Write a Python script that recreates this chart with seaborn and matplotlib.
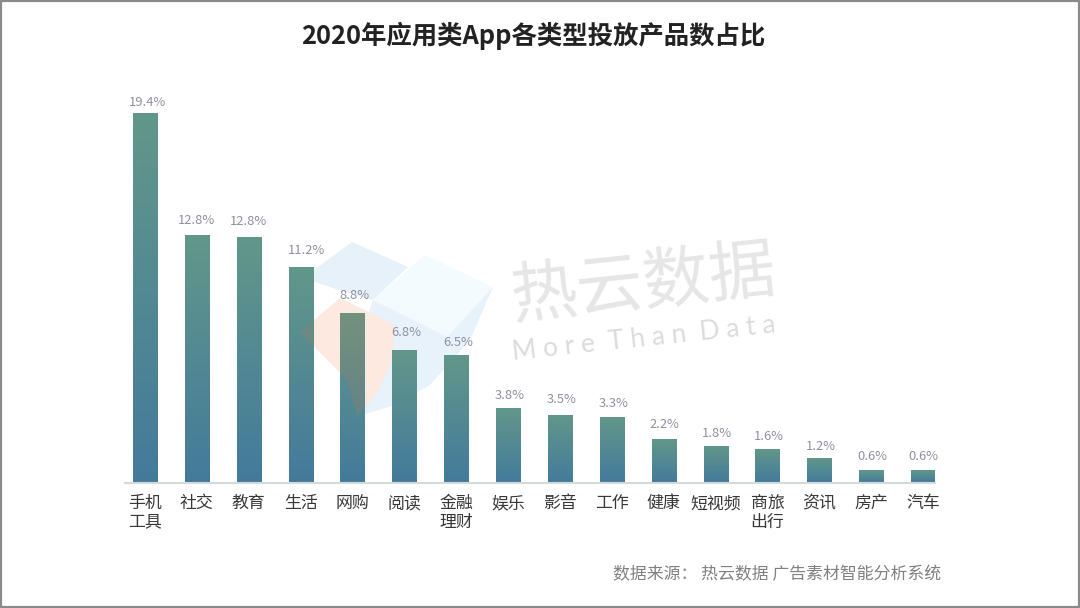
import numpy as np
import matplotlib
matplotlib.use('Agg')
import matplotlib.pyplot as plt
from matplotlib.colors import LinearSegmentedColormap
from matplotlib.patches import Polygon, Rectangle
import pandas as pd
import seaborn as sns

# data
categories = ['手机\n工具', '社交', '教育', '生活', '网购', '阅读', '金融\n理财', '娱乐',
              '影音', '工作', '健康', '短视频', '商旅\n出行', '资讯', '房产', '汽车']
bar_values = [19.35, 12.95, 12.87, 11.27, 8.86, 6.92, 6.66, 3.93,
              3.52, 3.41, 2.3, 1.89, 1.73, 1.31, 0.68, 0.68]
bar_labels = ['19.4%', '12.8%', '12.8%', '11.2%', '8.8%', '6.8%', '6.5%', '3.8%',
              '3.5%', '3.3%', '2.2%', '1.8%', '1.6%', '1.2%', '0.6%', '0.6%']

# label offset from bar top centre, px (the source places them by hand)
label_gaps = [11, 15, 16, 17, 18, 18, 13, 13, 16, 14, 15, 13, 13, 12, 14, 14]
label_shift = [3, 0, 0, 6, 2, 2, 2, 2, 2, 2, 1, 1, 1, 2, 1, 0]

W, H = 1080, 608
CJK = ['Noto Sans CJK SC', 'DejaVu Sans']

sns.set_theme(style='white')
plt.rcParams['font.family'] = CJK

fig = plt.figure(figsize=(W / 100, H / 100), dpi=100, facecolor='white')
ax = fig.add_axes([125 / W, 1 - 483 / H, (935 - 125) / W, (483 - 90) / H])
ax.patch.set_alpha(0)

df = pd.DataFrame({'cat': categories, 'val': bar_values})
sns.barplot(data=df, x='cat', y='val', width=0.4627, color='#5f9685', ax=ax, zorder=2)


def px(points):
    return [(x / W, 1 - y / H) for x, y in points]


orange_pts = [(340, 298), (395, 325), (392, 360), (378, 392), (357, 417), (347, 380), (300, 332)]

# vertical gradient on every bar, each one runs the full green to blue
cmap = LinearSegmentedColormap.from_list('bar', ['#437a9b', '#62978a'])
grad = np.linspace(0, 1, 256).reshape(-1, 1)
for i, (p, lab, gap, dx) in enumerate(zip(ax.patches, bar_labels, label_gaps, label_shift)):
    x0, w, h = p.get_x(), p.get_width(), p.get_height()
    ax.imshow(grad, origin='lower', extent=(x0, x0 + w, 0, h), aspect='auto',
              cmap=cmap, zorder=2)
    p.set_visible(False)
    ax.annotate(lab, (x0 + w / 2, h), xytext=(dx * 0.72, gap * 0.72), textcoords='offset points',
                ha='center', va='center', fontsize=9.3, color='#8f8fa2',
                family=CJK)
    # the orange part of the logo tints the bars it crosses
    if i in (3, 4):
        tint = Polygon(px(orange_pts), closed=True, transform=fig.transFigure,
                       facecolor='#c07a50', edgecolor='none', alpha=0.2, zorder=3)
        ax.add_patch(tint)
        tint.set_transform(fig.transFigure)
        tint.set_clip_path(Rectangle((x0, 0), w, h, transform=ax.transData))
ax.set_xlim(-0.385, 15.23)
ax.set_ylim(0, 20.6)

ax.set_xlabel('')
ax.set_ylabel('')
ax.set_yticks([])
ax.tick_params(axis='x', length=0, pad=8)
ax.set_xticks(range(len(categories)))
ax.set_xticklabels(categories, fontsize=12.2, color='#383838', linespacing=1.03)
for side in ['top', 'right', 'left']:
    ax.spines[side].set_visible(False)
ax.spines['bottom'].set_color('#d3dada')
ax.spines['bottom'].set_linewidth(1.5)

# watermark logo, behind the axes
logo = [
    ([(352, 242), (408, 267), (373, 300), (345, 292), (303, 278)], '#e6f1fa'),
    ([(425, 255), (493, 287), (447, 337), (373, 300)], '#f4fbff'),
    ([(373, 300), (447, 337), (493, 287), (470, 340), (430, 385), (395, 405), (352, 418),
      (353, 360)], '#e7f2fb'),
    (orange_pts, '#fde9e0'),
]
for pts, col in logo:
    fig.add_artist(Polygon(px(pts), closed=True, transform=fig.transFigure,
                           facecolor=col, edgecolor='none', zorder=-2))

fig.text(643 / W, 1 - 285 / H, '热云数据', fontsize=48, color='#e6e6e6', ha='center', va='center',
         rotation=6, family=CJK, zorder=-1)
fig.text(644 / W, 1 - 339 / H, 'M o r e  T h a n  D a t a', fontsize=19, color='#dcdcdc',
         ha='center', va='center', rotation=6, family=['Lato', 'DejaVu Sans'],
         zorder=-1)

fig.text(533.5 / W, 1 - 36 / H, '2020年应用类App各类型投放产品数占比', fontsize=18.3, fontweight='bold',
         color='#222222', ha='center', va='center', family=CJK)
fig.text(941 / W, 1 - 574 / H, '数据来源： 热云数据 广告素材智能分析系统', fontsize=12.15, color='#808080',
         ha='right', va='center', family=CJK)

# grey frame round the slide
fig.add_artist(Rectangle((0, 0), 1, 1, transform=fig.transFigure, facecolor='none',
                         edgecolor='#8a8a8a', linewidth=3, zorder=5))

fig.savefig('out.png', dpi=100)
